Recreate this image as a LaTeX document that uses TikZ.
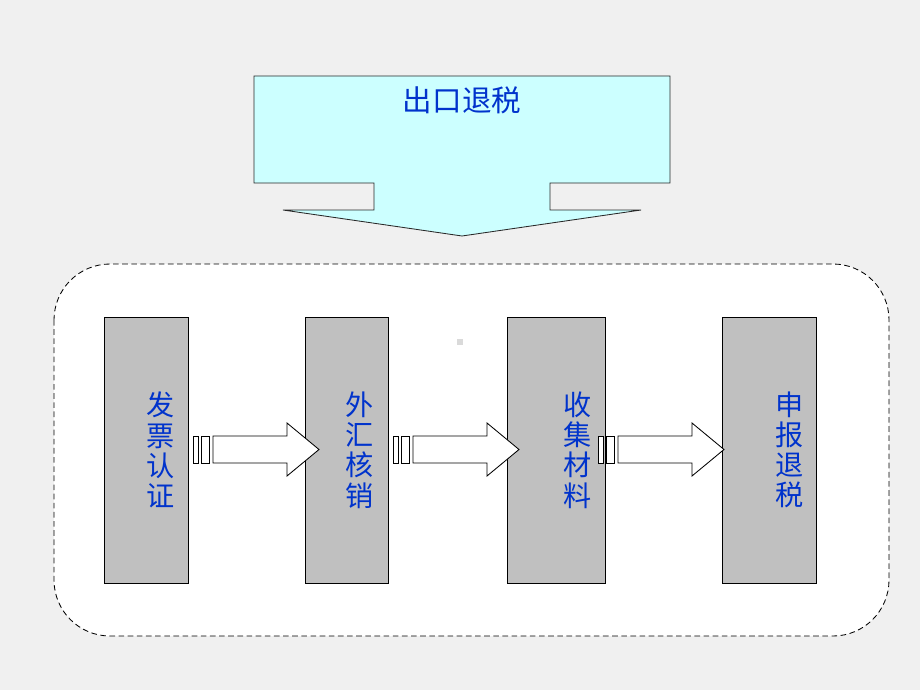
\documentclass[tikz,border=0pt]{standalone}
\usepackage{fontspec}
\newfontfamily\cjk{Noto Sans CJK SC}
\usetikzlibrary{shapes}

\definecolor{bggray}{RGB}{240,240,240}
\definecolor{boxgray}{RGB}{192,192,192}
\definecolor{txtblue}{RGB}{0,51,204}
\definecolor{lightcyan}{RGB}{204,255,255}
\definecolor{edgegray}{RGB}{40,40,40}

\tikzset{
  stepbox/.style={draw, fill=boxgray, minimum height=6.65cm, inner sep=0pt},
  steptext/.style={text=txtblue, align=center, font=\cjk\fontsize{20}{21.5}\selectfont, inner sep=0pt},
  blockarrow/.style={draw=black, fill=white, line width=0.6pt}
}

\begin{document}
\begin{tikzpicture}[x=0.025cm, y=-0.025cm]
        \fill[bggray] (0,0) rectangle (920,690);
        \useasboundingbox (0,0) rectangle (920,690);

        % top arrow
        \draw[fill=lightcyan, draw=edgegray, line width=0.6pt] (254,76) -- (670,76) -- (670,183) -- (550,183) -- (550,210)
            -- (641,210) -- (462,236) -- (283,210) -- (374,210) -- (374,183) -- (254,183) -- cycle;
        \draw (462,100) node[text=txtblue, font=\cjk\fontsize{21}{25}\selectfont] (title) {出口退税};

        % dashed frame
        \draw[black, line width=0.6pt, dash pattern=on 4pt off 2.5pt, fill=white, rounded corners=1.4cm] (54,264) rectangle (889,636);
        \fill[bggray!80!gray] (457,339) rectangle (463,345);

        % steps
        \draw (146,450) node[stepbox, minimum width=2.1cm] (s1) {};
        \draw (346.5,450) node[stepbox, minimum width=2.075cm] (s2) {};
        \draw (556,450) node[stepbox, minimum width=2.45cm] (s3) {};
        \draw (769,450) node[stepbox, minimum width=2.35cm] (s4) {};

        \draw (161,450) node[steptext] (t1) {发\\票\\认\\证};
        \draw (360,450) node[steptext] (t2) {外\\汇\\核\\销};
        \draw (578,450) node[steptext] (t3) {收\\集\\材\\料};
        \draw (790,450) node[steptext] (t4) {申\\报\\退\\税};

        % arrows between steps
        \foreach \s in {193,393,598} {
            \draw[blockarrow] (\s,436) rectangle (\s+5,463);
            \draw[blockarrow] (\s+8,436) rectangle (\s+16,463);
            \draw[blockarrow] (\s+20,436) -- (\s+94,436) -- (\s+94,423) -- (\s+126,449.5)
                -- (\s+94,476) -- (\s+94,463) -- (\s+20,463) -- cycle;
        }
\end{tikzpicture}
\end{document}
